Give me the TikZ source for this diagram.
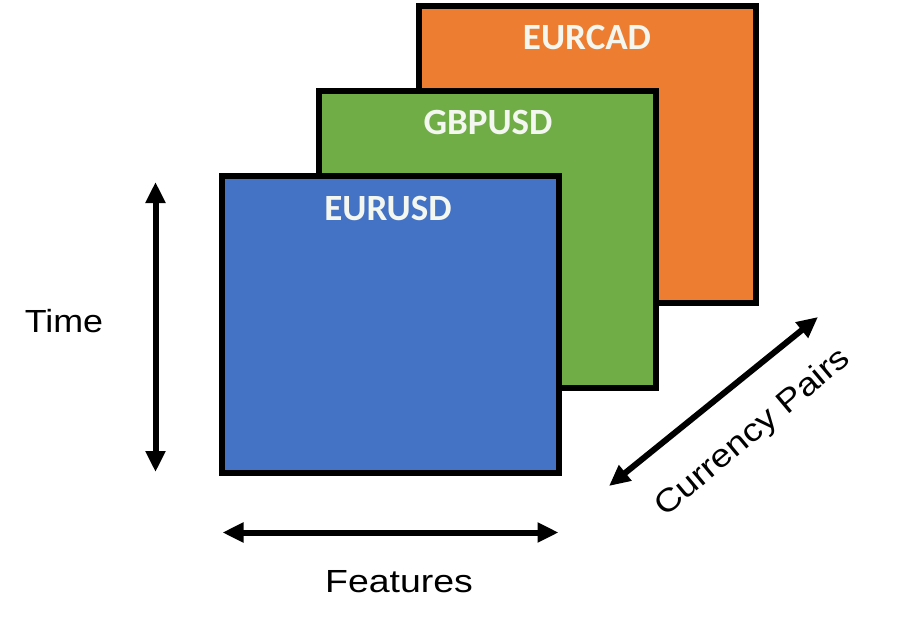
\documentclass[tikz,border=0pt]{standalone}
\usepackage{fontspec}
\setmainfont{Liberation Sans}
\newfontfamily\lblfont[BoldFont={Carlito Bold}]{Carlito}
\usetikzlibrary{arrows.meta}
\definecolor{pblue}{HTML}{4472C4}
\definecolor{pgreen}{HTML}{70AD47}
\definecolor{porange}{HTML}{ED7D31}
\definecolor{ptext}{HTML}{F4F6F0}
\begin{document}
\begin{tikzpicture}[x=1pt,y=-1pt,
  sheet/.style={draw=black,line width=6pt,minimum width=337pt,minimum height=297pt,inner sep=0pt,outer sep=0pt},
  sheetlbl/.style={anchor=base,inner sep=0pt,text=ptext,font=\lblfont\bfseries\fontsize{37}{37}\selectfont},
  axis/.style={line width=6pt,{Triangle[length=21pt,width=19pt]}-{Triangle[length=21pt,width=19pt]}},
  axislbl/.style={inner sep=0pt,font=\fontsize{32}{32}\selectfont}]
\useasboundingbox (0,0) rectangle (897,629);
\node[sheet,fill=porange] (eurcad) at (587.5,154) {};
\node[sheet,fill=pgreen] (gbpusd) at (487,239.5) {};
\node[sheet,fill=pblue] (eurusd) at (390.5,324.5) {};
\node[sheetlbl] (lcad) at (587,49) {EURCAD};
\node[sheetlbl] (lgbp) at (488,134) {GBPUSD};
\node[sheetlbl] (leur) at (388,220) {EURUSD};
\coordinate (t1) at (155.5,182);
\coordinate (t2) at (155.5,472);
\coordinate (f1) at (222.5,532.5);
\coordinate (f2) at (558.5,532.5);
\coordinate (c1) at (609,486);
\coordinate (c2) at (818,317);
\draw[axis] (t1) -- (t2);
\draw[axis] (f1) -- (f2);
\draw[axis] (c1) -- (c2);
\node[axislbl,anchor=base] (time) at (64,332) {\scalebox{1.12}[1]{Time}};
\node[axislbl,anchor=base] (feat) at (399,592) {\scalebox{1.17}[1]{Features}};
\node[axislbl,rotate=40] (cur) at (753,433) {\scalebox{1.15}[1]{Currency Pairs}};
\end{tikzpicture}
\end{document}
